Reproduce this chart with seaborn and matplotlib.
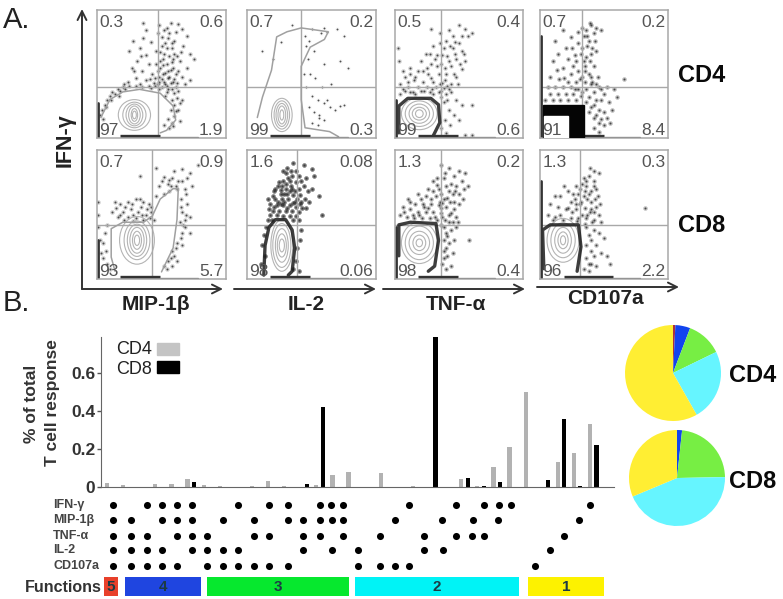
import pandas as pd
import matplotlib
matplotlib.use("Agg")
import matplotlib.pyplot as plt
from matplotlib.patches import Ellipse, Rectangle
import seaborn as sns

sns.set_style("white")
plt.rcParams['font.family'] = ['Liberation Sans', 'DejaVu Sans']

W, H = 783, 599

# -------------------------
# Bar chart values
# -------------------------
cd4_values = [.02, .01, 0, .015, .015, .04, .01, .005, 0, .005, .03, .005, 0, .008, .065, .08,
              0, .075, 0, .005, 0, 0, .04, .005, .105, .21, .5, 0, .13, .18, .33]
cd8_values = [0, 0, 0, 0, 0, .025, 0, 0, 0, 0, 0, 0, .015, .42, 0, 0,
              0, 0, 0, 0, .79, 0, .05, .005, .025, 0, 0, .035, .36, .005, .22]
y_ticks = [0, .2, .4, .6]
y_tick_labels = ["0", "0.2", "0.4", "0.6"]

# dot matrix under the bars, one list of columns per marker
row_names = ["IFN-γ", "MIP-1β", "TNF-α", "IL-2", "CD107a"]
ifn_cols = [113, 147, 162, 177, 192, 238, 269, 288, 320, 331, 343, 409, 456, 484, 499, 511, 590]
mip_cols = [113, 131, 162, 177, 192, 223, 254, 288, 303, 320, 332, 343, 395, 442, 473, 498, 579]
tnf_cols = [113, 131, 147, 177, 192, 207, 254, 269, 303, 320, 343, 380, 424, 456, 472, 484, 564]
il2_cols = [113, 131, 147, 162, 192, 207, 223, 238, 303, 332, 358, 424, 443, 550]
cd107_cols = [113, 131, 147, 162, 177, 207, 223, 238, 254, 269, 288, 358, 380, 395, 409, 535]

func_names = ["5", "4", "3", "2", "1"]
func_ranges = [(104, 14), (125, 76), (207, 142), (355, 164), (528, 76)]
func_colors = ["#e8402a", "#1f45e0", "#06e82e", "#00f3f6", "#fdf200"]

# pies
pie_cd4 = [0.8, 5, 12, 24, 58.2]
pie_cd8 = [0, 1.7, 23, 44, 31.3]
pie_colors = ["#a83040", "#1144ee", "#77ee44", "#66f5ff", "#ffee33"]

# -------------------------
# Flow panels, values in % of the panel
# -------------------------
mip_cd4_dots = [(48, 88), (52, 84), (57, 90), (63, 89), (66, 85), (70, 80), (55, 78), (60, 76), (50, 72), (46, 68),
                (52, 66), (58, 70), (62, 64), (67, 72), (72, 66), (49, 60), (54, 58), (59, 55), (64, 60), (70, 55),
                (75, 62), (47, 52), (51, 50), (56, 48), (61, 50), (66, 48), (72, 45), (48, 44), (53, 42), (57, 43),
                (62, 43), (68, 42), (36, 90), (38, 84), (36, 78), (28, 76), (33, 70), (25, 68), (38, 65), (42, 75),
                (31, 60), (40, 58), (27, 55), (35, 52), (43, 50), (30, 47), (38, 45), (24, 44), (12, 36), (16, 38),
                (20, 40), (25, 41), (30, 41), (35, 40), (40, 41), (45, 41), (50, 40), (55, 38), (8, 30), (6, 26),
                (4, 22), (10, 33), (60, 35), (62, 31), (58, 30), (60, 26), (63, 22), (57, 22), (60, 17), (55, 15),
                (58, 12), (52, 10), (56, 8), (64, 13), (2, 18), (5, 15), (48, 38), (53, 33), (58, 38), (61, 40),
                (44, 43), (50, 46), (55, 47), (49, 55), (51, 62), (53, 74), (56, 82), (59, 62), (55, 52), (52, 44),
                (14, 34), (18, 37), (22, 38), (33, 42), (42, 39), (47, 42), (54, 41), (59, 44), (63, 37), (66, 30),
                (47, 82), (50, 79), (54, 70), (56, 64), (58, 59), (60, 66), (51, 57), (53, 51), (46, 58), (48, 48),
                (57, 53), (60, 46), (63, 52), (65, 67), (54, 86), (61, 83), (58, 74), (49, 67), (45, 47), (41, 46),
                (34, 64), (29, 52), (21, 42), (17, 33), (11, 30), (7, 24), (64, 27), (61, 21), (59, 9), (54, 36)]
il2_cd4_dots = [(35, 88), (50, 85), (57, 82), (62, 83), (70, 85), (75, 80), (26, 75), (45, 80), (52, 68), (47, 62),
                (72, 60), (60, 58), (49, 50), (53, 47), (58, 40), (65, 42), (72, 25), (75, 26), (50, 33), (55, 30),
                (60, 27), (64, 24), (68, 22), (48, 24), (52, 20), (56, 16), (60, 14), (50, 12), (55, 10), (46, 40),
                (44, 50), (46, 72), (48, 76), (60, 86), (56, 18), (62, 30), (78, 55), (12, 68), (20, 62)]
tnf_cd4_dots = [(28, 85), (35, 82), (50, 88), (55, 85), (57, 80), (45, 80), (40, 76), (50, 74), (60, 82), (30, 72),
                (38, 70), (45, 70), (52, 68), (24, 66), (33, 65), (41, 64), (48, 62), (55, 60), (20, 60), (28, 58),
                (36, 58), (44, 56), (52, 54), (12, 55), (18, 52), (26, 50), (34, 50), (40, 50), (48, 48), (8, 48),
                (15, 45), (22, 44), (30, 44), (37, 43), (44, 42), (4, 42), (10, 40), (18, 40), (25, 40), (32, 40),
                (38, 39), (8, 37), (14, 36), (20, 37), (27, 36), (34, 36), (40, 34), (4, 34), (36, 32), (38, 28),
                (41, 30), (44, 36), (48, 30), (52, 26), (60, 26), (42, 22), (46, 18), (39, 14), (43, 10), (50, 14),
                (36, 8), (40, 4), (55, 2), (60, 2), (12, 50), (25, 55), (42, 60), (47, 75), (3, 60), (2, 70),
                (6, 52), (16, 34), (30, 34), (36, 37), (42, 38), (28, 47), (33, 56), (39, 45), (54, 66), (49, 42),
                (43, 72), (37, 65), (31, 62), (27, 66), (22, 52), (16, 48), (10, 44), (6, 38), (12, 36), (23, 37),
                (29, 38), (35, 42), (41, 41), (46, 50), (51, 58), (35, 74), (42, 84), (52, 80), (47, 66), (39, 55)]
cd107_cd4_dots = [(40, 88), (42, 82), (34, 80), (30, 74), (37, 72), (43, 76), (48, 84), (25, 70), (32, 66), (40, 66),
                  (34, 60), (28, 60), (22, 62), (35, 56), (42, 56), (30, 52), (24, 50), (14, 66), (10, 60), (18, 55),
                  (33, 48), (38, 50), (45, 48), (8, 48), (15, 46), (22, 44), (28, 44), (35, 44), (40, 42), (44, 42),
                  (6, 40), (12, 40), (18, 40), (24, 40), (30, 38), (36, 38), (42, 36), (48, 38), (52, 40), (58, 38),
                  (8, 34), (14, 34), (20, 34), (26, 34), (32, 33), (38, 32), (44, 30), (48, 30), (54, 28), (60, 32),
                  (4, 30), (10, 30), (16, 30), (22, 30), (28, 30), (36, 28), (42, 26), (46, 22), (50, 20), (56, 22),
                  (38, 20), (42, 16), (46, 12), (50, 10), (55, 12), (42, 8), (46, 5), (41, 44), (39, 60), (44, 68),
                  (66, 46), (38, 76), (36, 84), (31, 46), (27, 38), (33, 36), (40, 24), (44, 18), (48, 15), (52, 16),
                  (33, 86), (37, 80), (41, 70), (33, 70), (27, 65), (20, 70), (13, 53), (19, 47), (26, 56), (36, 63),
                  (35, 52), (40, 48), (46, 40), (50, 34), (39, 90), (44, 86), (30, 83), (24, 79), (12, 76), (18, 84)]
mip_cd8_dots = [(78, 88), (72, 82), (66, 85), (60, 84), (58, 78), (63, 76), (70, 78), (55, 74), (50, 76), (48, 72),
                (56, 68), (52, 66), (46, 64), (68, 70), (74, 72), (40, 58), (36, 60), (30, 62), (24, 60), (18, 58),
                (14, 60), (20, 52), (26, 54), (32, 52), (38, 50), (12, 52), (16, 48), (24, 48), (30, 47), (36, 46),
                (42, 52), (44, 46), (8, 42), (6, 36), (5, 28), (7, 22), (5, 16), (8, 12), (10, 8), (65, 62),
                (66, 52), (70, 58), (68, 46), (72, 48), (64, 44), (68, 40), (72, 36), (66, 36), (62, 28), (66, 26),
                (58, 22), (60, 18), (55, 14), (58, 10), (52, 10), (62, 14), (1, 60), (1, 50), (1, 40), (2, 30),
                (3, 20), (33, 80), (46, 86), (42, 56), (34, 56), (28, 50), (22, 56), (18, 50), (62, 70), (57, 72),
                (52, 79), (56, 77), (61, 72), (66, 76), (69, 66), (65, 56), (69, 50), (67, 42), (65, 32), (61, 24),
                (57, 16), (54, 8), (27, 58), (33, 62), (39, 54), (15, 55), (21, 46), (28, 45), (35, 50), (41, 47)]
il2_cd8_dots = [(36, 90), (44, 88), (50, 85), (34, 84), (40, 80), (30, 82), (46, 78), (52, 80), (28, 76), (33, 76),
                (38, 75), (24, 72), (30, 70), (35, 70), (40, 70), (44, 72), (50, 70), (21, 68), (26, 66), (31, 66),
                (36, 65), (41, 65), (22, 62), (27, 62), (32, 62), (37, 60), (42, 60), (48, 60), (18, 58), (23, 57),
                (28, 57), (33, 57), (38, 56), (20, 53), (25, 53), (30, 53), (35, 53), (40, 52), (18, 50), (23, 50),
                (28, 49), (33, 49), (38, 49), (16, 46), (40, 46), (15, 40), (13, 34), (42, 38), (41, 30), (39, 24),
                (12, 26), (14, 18), (11, 12), (38, 14), (36, 8), (40, 6), (25, 75), (31, 86), (56, 64), (58, 50),
                (29, 60), (34, 72), (24, 60), (26, 69), (32, 78), (37, 68), (20, 64), (43, 55), (19, 46), (36, 46),
                (30, 74), (35, 80), (28, 84), (38, 84), (42, 76), (47, 68), (45, 62), (41, 58), (27, 72), (22, 70),
                (17, 54), (16, 62), (29, 66), (33, 68), (39, 62), (46, 55), (26, 58), (31, 55), (36, 59), (21, 56)]
tnf_cd8_dots = [(36, 88), (42, 86), (50, 84), (55, 82), (46, 80), (38, 78), (52, 76), (30, 76), (44, 74), (57, 72),
                (26, 70), (34, 70), (42, 68), (50, 66), (18, 66), (24, 64), (32, 64), (38, 62), (46, 60), (53, 62),
                (10, 62), (16, 58), (22, 58), (28, 58), (34, 57), (40, 56), (46, 54), (6, 56), (12, 54), (18, 52),
                (24, 52), (30, 52), (36, 51), (42, 50), (48, 48), (4, 50), (9, 48), (15, 47), (21, 47), (27, 47),
                (33, 46), (39, 46), (45, 44), (38, 40), (40, 36), (44, 38), (48, 40), (38, 30), (42, 28), (46, 30),
                (38, 22), (41, 18), (45, 20), (37, 12), (40, 8), (44, 10), (58, 30), (36, 42), (30, 68), (40, 72),
                (47, 68), (35, 60), (43, 60), (26, 55), (20, 62), (14, 50), (36, 55), (31, 48), (42, 44), (50, 58),
                (33, 78), (39, 82), (48, 72), (36, 66), (28, 62), (23, 56), (19, 50), (12, 60), (7, 52), (37, 48),
                (44, 51), (49, 44), (41, 33), (40, 24), (38, 16), (33, 73), (54, 70), (45, 66), (41, 63), (37, 59)]
cd107_cd8_dots = [(42, 84), (38, 80), (46, 82), (34, 78), (42, 76), (28, 72), (36, 72), (44, 70), (22, 68), (30, 66),
                  (38, 66), (45, 64), (16, 64), (24, 60), (32, 60), (40, 60), (8, 58), (14, 56), (20, 54), (28, 54),
                  (35, 55), (42, 52), (6, 50), (12, 48), (18, 46), (24, 47), (30, 47), (36, 47), (42, 46), (48, 44),
                  (36, 40), (38, 34), (42, 38), (46, 36), (50, 32), (36, 26), (40, 22), (44, 26), (48, 20), (36, 16),
                  (40, 12), (44, 10), (34, 8), (38, 6), (52, 18), (55, 12), (82, 55), (33, 74), (27, 62), (39, 52),
                  (33, 50), (44, 56), (25, 52), (31, 58), (37, 62), (42, 72), (47, 58), (41, 44), (35, 43), (29, 45),
                  (39, 86), (36, 76), (31, 70), (34, 64), (28, 58), (22, 55), (16, 50), (10, 46), (37, 50), (43, 62),
                  (40, 54), (46, 50), (40, 30), (38, 12), (42, 18), (19, 72), (12, 64), (26, 66), (35, 68), (40, 68)]

# outlines drawn as dark bands or grey contours
mip_cd4_line = [(3, 16), (10, 30), (20, 36), (33, 38), (49, 35), (59, 25), (61, 14), (54, 6), (49, 4)]
il2_cd4_line = [(8, 16), (12, 32), (19, 53), (23, 79), (31, 83), (42, 86), (63, 83), (60, 77), (49, 71),
                (42, 56), (42, 30), (45, 8), (64, 5), (71, 1)]
mip_cd8_line = [(14, 6), (11, 17), (11, 39), (20, 44), (36, 44), (43, 49), (49, 62), (59, 70), (63, 70),
                (62, 46), (59, 24), (50, 5.5)]
tnf_cd4_band = [(3, 4), (3, 25), (10, 31), (28, 31), (34, 26), (35, 12), (30, 2)]
tnf_cd8_band = [(3, 18), (3, 42), (12, 44), (32, 43), (34, 30), (31, 10), (26, 6)]
cd107_cd8_band = [(3, 8), (2, 38), (8, 42), (30, 42), (32, 25), (29, 6)]
il2_cd8_band = [(13, 3), (14, 26), (17, 40), (22, 46), (30, 46), (35, 38), (37, 24), (35, 6), (32, 3)]

# nested contours: centre, then widths and heights going inwards
mip_cd4_cont = ((29, 18), [25, 18, 13, 9, 5, 3], [24, 20, 17, 14, 10, 6])
il2_cd4_cont = ((27, 18), [16, 12, 9, 6, 3], [26, 22, 18, 14, 8])
tnf_cd4_cont = ((19, 19), [28, 22, 16, 11, 6], [25, 20, 15, 10, 6])
mip_cd8_cont = ((31, 30), [27, 20, 15, 11, 7, 4], [37, 30, 25, 20, 14, 8])
il2_cd8_cont = ((27, 26), [17, 14, 10, 7, 4], [40, 34, 26, 18, 10])
tnf_cd8_cont = ((19, 28), [28, 22, 16, 10, 5], [32, 26, 18, 12, 6])
cd107_cd8_cont = ((18, 30), [25, 19, 13, 8, 4], [34, 27, 20, 13, 7])

# -------------------------
# Helpers
# -------------------------
fig = plt.figure(figsize=(W / 100, H / 100), dpi=100)


def px_axes(left, top, right, bottom):
    return fig.add_axes([left / W, 1 - bottom / H, (right - left) / W, (bottom - top) / H])


def flow_panel(box, gate, numbers, dots, cont, line=None, band=None, strip=(18, 49), side=0, glow=0.1):
    ax = px_axes(*box)
    ax.set_xlim(0, 100)
    ax.set_ylim(0, 100)
    ax.set_xticks([])
    ax.set_yticks([])
    for s in ax.spines.values():
        s.set_color("#a8a8a8")
        s.set_linewidth(1.1)
    ax.axvline(gate[0], color="#a8a8a8", lw=1)
    ax.axhline(gate[1], color="#a8a8a8", lw=1)

    df = pd.DataFrame(dots, columns=["x", "y"])
    # soft layer so that close events run together like in the scan
    sns.scatterplot(data=df, x="x", y="y", s=11, color="#222222", alpha=glow, linewidth=0, legend=False, ax=ax)
    sns.scatterplot(data=df, x="x", y="y", s=2, color="#333333", alpha=0.85, linewidth=0, legend=False, ax=ax)

    if line is not None:
        ax.plot(*zip(*line), color="#a0a0a0", lw=1.1)
    if band is not None:
        ax.plot(*zip(*band), color="#1c1c1c", lw=2.4, solid_joinstyle="round", alpha=0.85)
    if cont is not None:
        centre, widths, heights = cont
        for w, h in zip(widths, heights):
            ax.add_patch(Ellipse(centre, w, h, fill=False, ec="#b4b4b4", lw=0.8))
    # events stacked on the axes
    ax.plot([strip[0], strip[1]], [1.8, 1.8], color="#333333", lw=2.4, solid_capstyle="butt")
    ax.plot([strip[1], 78], [0.8, 0.8], color="#555555", lw=0.9)
    if side:
        ax.plot([0.8, 0.8], [1, side], color="#333333", lw=2)

    ax.text(2, 90, numbers[0], color="#555555", fontsize=12.5, va="center", ha="left")
    ax.text(98, 90, numbers[1], color="#555555", fontsize=12.5, va="center", ha="right")
    ax.text(2, 6, numbers[2], color="#555555", fontsize=12.5, va="center", ha="left")
    ax.text(98, 6, numbers[3], color="#555555", fontsize=12.5, va="center", ha="right")
    return ax


# -------------------------
# Panel A
# -------------------------
flow_panel((97, 10, 226, 138), (47, 40), ("0.3", "0.6", "97", "1.9"), mip_cd4_dots, mip_cd4_cont,
           line=mip_cd4_line, side=27, glow=0.2)
flow_panel((247, 10, 376, 138), (42, 40), ("0.7", "0.2", "99", "0.3"), il2_cd4_dots, il2_cd4_cont,
           line=il2_cd4_line, glow=0.03)
flow_panel((395, 10, 523, 138), (36, 40), ("0.5", "0.4", "99", "0.6"), tnf_cd4_dots, tnf_cd4_cont,
           band=tnf_cd4_band, side=30, glow=0.2)
ax_cd107 = flow_panel((540, 10, 668, 138), (33, 40), ("0.7", "0.2", "91", "8.4"), cd107_cd4_dots, None,
                      strip=(20, 50), side=80, glow=0.3)
ax_cd107.add_patch(Rectangle((2, 0), 32, 26, color="#050505", zorder=3))
ax_cd107.add_patch(Rectangle((3, 0), 19, 17, color="white", zorder=3.5))
for t in ax_cd107.texts:
    t.set_zorder(5)

flow_panel((97, 150, 226, 279), (43, 42), ("0.7", "0.9", "93", "5.7"), mip_cd8_dots, mip_cd8_cont,
           line=mip_cd8_line, side=30, glow=0.2)
flow_panel((247, 150, 376, 279), (39, 42), ("1.6", "0.08", "98", "0.06"), il2_cd8_dots, il2_cd8_cont,
           band=il2_cd8_band, glow=0.6)
flow_panel((395, 150, 523, 279), (36, 42), ("1.3", "0.2", "98", "0.4"), tnf_cd8_dots, tnf_cd8_cont,
           band=tnf_cd8_band, side=40, glow=0.3)
flow_panel((540, 150, 668, 279), (31, 42), ("1.3", "0.3", "96", "2.2"), cd107_cd8_dots, cd107_cd8_cont,
           band=cd107_cd8_band, strip=(19, 57), side=76, glow=0.28)

# -------------------------
# Panel B bars
# -------------------------
bars = pd.DataFrame({
    "combo": list(range(31)) * 2,
    "value": cd4_values + cd8_values,
    "cell": ["CD4"] * 31 + ["CD8"] * 31,
})
ax_bar = px_axes(101, 337, 614, 487)
sns.barplot(data=bars, x="combo", y="value", hue="cell", palette={"CD4": "#b2b2b2", "CD8": "#000000"},
            width=0.8, gap=0.35, saturation=1, linewidth=0, legend=False, ax=ax_bar)
ax_bar.set_xlim(-0.575, 31.29)
ax_bar.set_ylim(0, 0.79)
ax_bar.set_xticks([])
ax_bar.set_yticks(y_ticks)
ax_bar.set_yticklabels(y_tick_labels, fontsize=12.5, fontweight="bold", color="#333333")
ax_bar.tick_params(axis="y", left=True, length=3, width=1, color="#555555", pad=1)
ax_bar.set_xlabel("")
ax_bar.set_ylabel("")
sns.despine(ax=ax_bar)
ax_bar.spines["left"].set_color("#666666")
ax_bar.spines["bottom"].set_color("#666666")
ax_bar.patch.set_alpha(0)

# dot matrix
ax_dots = px_axes(101, 497, 614, 574)
ax_dots.set_xlim(101, 614)
ax_dots.set_ylim(574, 497)
ax_dots.axis("off")
for cols, row_y in zip([ifn_cols, mip_cols, tnf_cols, il2_cols, cd107_cols], [505, 520, 536, 550, 566]):
    sns.scatterplot(x=cols, y=[row_y] * len(cols), s=26, color="black", linewidth=0, legend=False, ax=ax_dots)

# function strip
ax_func = px_axes(100, 577, 610, 596)
ax_func.set_xlim(100, 610)
ax_func.set_ylim(0, 1)
ax_func.axis("off")
for name, rng, col in zip(func_names, func_ranges, func_colors):
    ax_func.broken_barh([rng], (0, 1), color=col, linewidth=0)
    ax_func.text(rng[0] + rng[1] / 2, 0.45, name, ha="center", va="center", fontsize=11, fontweight="bold",
                 color="#1c3b44")

# pies
ax_pie1 = px_axes(625, 325, 721, 421)
ax_pie1.pie(pie_cd4, colors=pie_colors, startangle=90, counterclock=False, radius=1, wedgeprops=dict(linewidth=0))
ax_pie1.set_xlim(-1, 1)
ax_pie1.set_ylim(-1, 1)
ax_pie2 = px_axes(629, 430, 725, 526)
ax_pie2.pie(pie_cd8, colors=pie_colors, startangle=90, counterclock=False, radius=1, wedgeprops=dict(linewidth=0))
ax_pie2.set_xlim(-1, 1)
ax_pie2.set_ylim(-1, 1)

# -------------------------
# Labels and arrows, in figure pixels
# -------------------------
ov = fig.add_axes([0, 0, 1, 1])
ov.set_xlim(0, W)
ov.set_ylim(H, 0)
ov.axis("off")
ov.patch.set_alpha(0)


def arrow(x0, y0, x1, y1):
    ov.annotate("", xy=(x1, y1), xytext=(x0, y0),
                arrowprops=dict(arrowstyle="->", color="#333333", lw=1.4, mutation_scale=16, shrinkA=0, shrinkB=0))


arrow(82, 289, 82, 9)
arrow(82, 289, 223, 289)
arrow(234, 289, 376, 289)
arrow(383, 289, 525, 289)
arrow(537, 287, 679, 287)

ov.text(3, 20, "A.", fontsize=21, va="center", color="#222222")
ov.text(3, 303, "B.", fontsize=21, va="center", color="#222222")
ov.text(65, 140, "IFN-γ", rotation=90, fontsize=15.5, fontweight="bold", ha="center", va="center", color="#222222")
for label, cx, cy in [("MIP-1β", 156, 305), ("IL-2", 306, 305), ("TNF-α", 456, 305), ("CD107a", 605, 299)]:
    ov.text(cx, cy, label, fontsize=15, fontweight="bold", ha="center", va="center", color="#222222")
for label, cx, cy in [("CD4", 702, 76), ("CD8", 702, 225), ("CD4", 753, 375), ("CD8", 753, 482)]:
    ov.text(cx, cy, label, fontsize=17, fontweight="bold", ha="center", va="center", color="#0a0a0a")

ov.text(31, 404, "% of total", rotation=90, fontsize=12.5, fontweight="bold", ha="center", va="center", color="#333333")
ov.text(52, 403, "T cell response", rotation=90, fontsize=12.5, fontweight="bold", ha="center", va="center",
        color="#333333")

ov.text(116, 349, "CD4", fontsize=13, va="center", color="#222222")
ov.text(116, 369, "CD8", fontsize=13, va="center", color="#222222")
ov.add_patch(Rectangle((157, 343), 22, 12, color="#c4c4c4"))
ov.add_patch(Rectangle((157, 361), 22, 12, color="#000000"))

for name, row_y in zip(row_names, [505, 520, 536, 550, 566]):
    ov.text(53, row_y, name, fontsize=9, fontweight="bold", va="center", color="#444444")
ov.text(25, 588, "Functions", fontsize=11.5, fontweight="bold", va="center", color="#333333")

fig.savefig("out.png", dpi=100)
